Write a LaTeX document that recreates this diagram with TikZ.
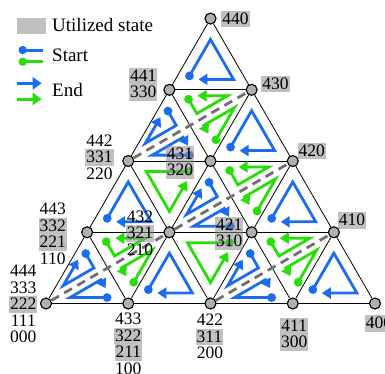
\documentclass[tikz,border=0pt]{standalone}
\usepackage{fontspec}
\setmainfont{Liberation Serif}
\usetikzlibrary{calc,arrows.meta}
\pgfdeclarelayer{back}
\pgfdeclarelayer{mid}
\pgfsetlayers{back,mid,main}

\definecolor{pathblue}{RGB}{28,108,240}
\definecolor{pathgreen}{RGB}{40,222,8}
\definecolor{usedgray}{RGB}{140,140,140}
\definecolor{vertexgray}{RGB}{176,176,176}
\definecolor{cutgray}{RGB}{112,112,112}

\tikzset{
  gridline/.style={black, line width=0.8pt},
  latvert/.style={circle, draw=black, line width=1.1pt, fill=vertexgray,
    minimum size=11pt, inner sep=0pt},
  cutline/.style={cutgray, line width=2.8pt, dash pattern=on 9pt off 6pt},
  route/.style={line width=2.8pt, -{Triangle[length=9pt,width=11pt]}},
  plainlab/.style={font=\fontsize{17.5}{16.5}\selectfont, inner xsep=1pt,
    inner ysep=0pt, text height=13.5pt, text depth=3pt},
  usedlab/.style={plainlab, fill=usedgray, fill opacity=0.55, text opacity=1},
  keytext/.style={font=\fontsize{19}{22}\selectfont, anchor=west, inner sep=0pt},
  keystart/.style={line width=3pt},
  keyend/.style={line width=3pt, -{Triangle[length=9pt,width=12pt]}}
}

% one route inside a cell: colour, three corners in drawing order, shrink factor
\newcommand\trail[5]{%
  \coordinate (tg) at ($0.33333*(#2)+0.33333*(#3)+0.33333*(#4)$);
  \coordinate (ta) at ($(tg)!#5!(#2)$);
  \coordinate (tb) at ($(tg)!#5!(#3)$);
  \coordinate (tc) at ($(tg)!#5!(#4)$);
  \coordinate (ts) at ($(ta)!4pt!(tb)$);
  \fill[#1] (ts) circle (4.4pt);
  \draw[route,#1] (ts) -- (tb) -- (tc) -- ($(ta)!11pt!(tc)$);
}

\begin{document}
\begin{tikzpicture}[x=1pt,y=-1pt]
\useasboundingbox (0,0) rectangle (385,373);

% lattice vertices
\foreach \j in {0,...,4}{
  \pgfmathtruncatemacro\imax{4-\j}
  \foreach \i in {0,...,\imax}{
    \node[latvert] (v\i\j) at ({46+82.25*(\i+0.5*\j)},{303.5-71.23*\j}) {};
  }
}

% midpoints where the cut lines cross the shared edges
\coordinate (m1) at ($(v10)!0.5!(v01)$);
\coordinate (m2) at ($(v12)!0.5!(v03)$);
\coordinate (m3) at ($(v21)!0.5!(v12)$);
\coordinate (m4) at ($(v30)!0.5!(v21)$);

\begin{pgfonlayer}{back}
  \foreach \j in {0,...,3}{
    \pgfmathtruncatemacro\k{4-\j}
    \draw[gridline] (v0\j) -- (v\k\j);
  }
  \foreach \i in {0,...,3}{
    \pgfmathtruncatemacro\k{4-\i}
    \draw[gridline] (v\i0) -- (v\i\k);
  }
  \foreach \i in {1,...,4}{
    \draw[gridline] (v\i0) -- (v0\i);
  }
  \draw[cutline] (v00) -- (v11);
  \draw[cutline] (v02) -- (v13);
  \draw[cutline] (v11) -- (v22);
  \draw[cutline] (v20) -- (v31);
\end{pgfonlayer}

\begin{pgfonlayer}{mid}
  % whole upward cells
  \trail{pathblue}{v10}{v11}{v20}{0.56}
  \trail{pathblue}{v30}{v31}{v40}{0.56}
  \trail{pathblue}{v01}{v02}{v11}{0.56}
  \trail{pathblue}{v21}{v22}{v31}{0.56}
  \trail{pathblue}{v12}{v13}{v22}{0.56}
  \trail{pathblue}{v03}{v04}{v13}{0.56}
  % whole downward cells
  \trail{pathgreen}{v21}{v11}{v20}{0.56}
  \trail{pathgreen}{v12}{v02}{v11}{0.56}
  % upward cells split by a cut line
  \trail{pathblue}{v01}{m1}{v00}{0.5}
  \trail{pathblue}{v10}{v00}{m1}{0.5}
  \trail{pathblue}{v03}{m2}{v02}{0.5}
  \trail{pathblue}{v12}{v02}{m2}{0.5}
  \trail{pathblue}{v12}{m3}{v11}{0.5}
  \trail{pathblue}{v21}{v11}{m3}{0.5}
  \trail{pathblue}{v21}{m4}{v20}{0.5}
  \trail{pathblue}{v30}{v20}{m4}{0.5}
  % downward cells split by a cut line
  \trail{pathgreen}{v01}{m1}{v11}{0.5}
  \trail{pathgreen}{v10}{v11}{m1}{0.5}
  \trail{pathgreen}{v03}{m2}{v13}{0.5}
  \trail{pathgreen}{v12}{v13}{m2}{0.5}
  \trail{pathgreen}{v12}{m3}{v22}{0.5}
  \trail{pathgreen}{v21}{v22}{m3}{0.5}
  \trail{pathgreen}{v21}{m4}{v31}{0.5}
  \trail{pathgreen}{v30}{v31}{m4}{0.5}
\end{pgfonlayer}

% state labels
\node[usedlab] (s440) at (235.5,19) {440};
\node[usedlab] (s430) at (275.5,83.8) {430};
\node[usedlab] (s420) at (311.7,150.8) {420};
\node[usedlab] (s410) at (352,220.5) {410};
\node[usedlab] (s400) at (379,323.3) {400};

\node[usedlab] (s411) at (294.2,326) {411};
\node[usedlab] (s300) at (294.2,342.5) {300};

\node[plainlab] (s422) at (210,320.5) {422};
\node[usedlab]  (s311) at (209.5,337) {311};
\node[plainlab] (s200) at (210,353.5) {200};

\node[plainlab] (s433) at (128.3,319.5) {433};
\node[usedlab]  (s322) at (128.3,336) {322};
\node[usedlab]  (s211) at (128.3,352.5) {211};
\node[plainlab] (s100) at (128.3,369) {100};

\node[plainlab] (s444) at (23.3,271.5) {444};
\node[plainlab] (s333) at (23.3,288) {333};
\node[usedlab]  (s222) at (23.3,304.5) {222};
\node[plainlab] (s111) at (23.3,321) {111};
\node[plainlab] (s000) at (23.3,337.5) {000};

\node[plainlab] (s443) at (52.7,209.5) {443};
\node[usedlab]  (s332) at (52.7,226) {332};
\node[usedlab]  (s221) at (52.7,242.5) {221};
\node[plainlab] (s110) at (52.7,259) {110};

\node[plainlab] (s442) at (99.5,141) {442};
\node[usedlab]  (s331) at (99.5,157.5) {331};
\node[plainlab] (s220) at (99.5,174) {220};

\node[usedlab] (s441) at (143.3,76) {441};
\node[usedlab] (s330) at (143.3,92.5) {330};

\node[usedlab] (s431) at (180,154.2) {431};
\node[usedlab] (s320) at (180,170.7) {320};

\node[plainlab] (s432) at (140,217) {432};
\node[usedlab]  (s321) at (140,233.5) {321};
\node[plainlab] (s210) at (140,250) {210};

\node[usedlab] (s421) at (229.3,225.2) {421};
\node[usedlab] (s310) at (229.3,241.7) {310};

% key
\node[usedlab, minimum width=29pt] (keybox) at (31.5,26) {};
\node[keytext] (keyused) at (52,25.4) {Utilized state};
\node[keytext] (keystartlab) at (52,55.5) {Start};
\node[keytext] (keyendlab) at (52,89.5) {End};
\fill[pathblue] (22.7,50) circle (4.2pt);
\draw[keystart, pathblue] (22.7,50) -- (42.7,50);
\fill[pathgreen] (22.7,61.7) circle (4.2pt);
\draw[keystart, pathgreen] (22.7,61.7) -- (42.7,61.7);
\draw[keyend, pathblue] (17.3,83.3) -- (41.7,83.3);
\draw[keyend, pathgreen] (17.3,99) -- (41.7,99);
\end{tikzpicture}
\end{document}
